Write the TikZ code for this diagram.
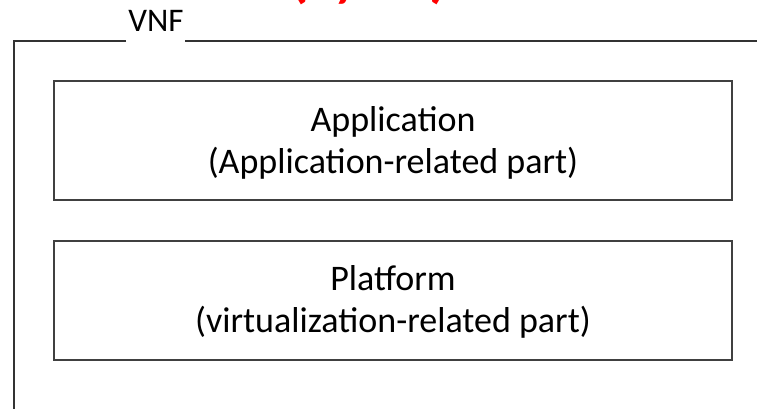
\documentclass[tikz,border=0pt]{standalone}
\usepackage{fontspec}
\setmainfont{Carlito}
\begin{document}
\begin{tikzpicture}[x=1pt,y=-1pt,
  frame/.style={draw=black!80,line width=1.6pt},
  part/.style={draw=black!75,line width=2pt,minimum width=678pt,minimum height=119pt,inner sep=0pt},
  parttext/.style={inner sep=0pt,align=center,font=\fontsize{36}{42}\selectfont},
  lbl/.style={inner sep=0pt,font=\fontsize{33}{36}\selectfont}]
\useasboundingbox (0,0) rectangle (757,408);
\begin{scope}
\clip (0,0) rectangle (757,408);
\node[anchor=base west,text=red,font=\fontsize{62}{64}\bfseries\selectfont,inner sep=0pt] (title) at (289,-5) {(1\raisebox{-6pt}{/}12)};
\draw[frame] (126,41) -- (14,41) -- (14,420);
\draw[frame] (185,41) -- (770,41);
\end{scope}
\node[lbl,anchor=base] (vnf) at (156,31) {VNF};
\node[part] (app) at (393,140.5) {};
\node[parttext] (apptext) at (393,142.5) {Application\\(Application-related part)};
\node[part] (plat) at (393,300) {};
\node[parttext] (plattext) at (393,302) {Platform\\(virtualization-related part)};
\end{tikzpicture}
\end{document}
